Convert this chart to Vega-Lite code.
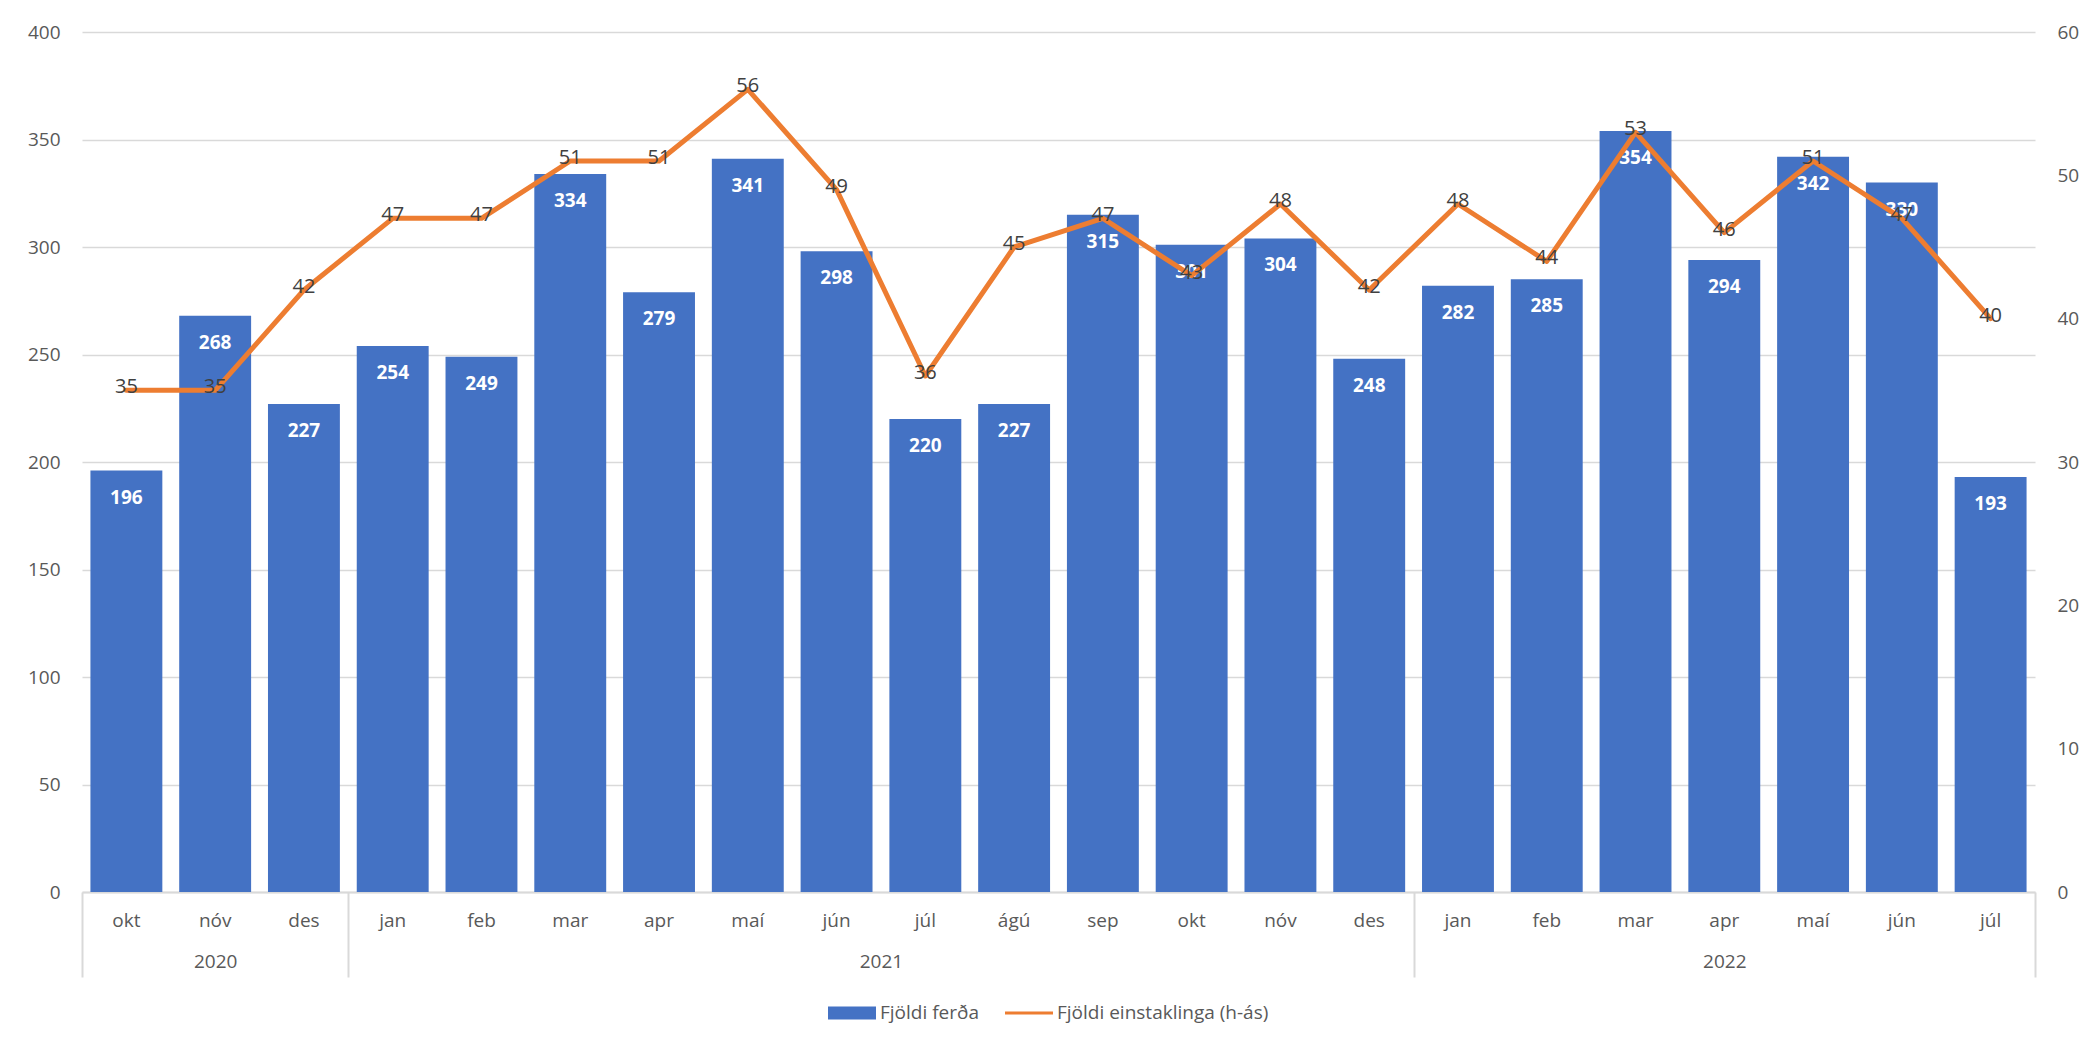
{
  "$schema": "https://vega.github.io/schema/vega-lite/v6.json",
  "width": 1953,
  "height": 860,
  "autosize": {"type": "none"},
  "padding": {"left": 82, "top": 32, "right": 50, "bottom": 152},
  "background": "white",
  "config": {
    "view": {"stroke": null},
    "font": "Open Sans",
    "axis": {"labelFont": "Open Sans", "labelColor": "#595959", "labelFontSize": 19, "title": null}
  },
  "datasets": {
    "months": [
      {"key": "okt 2020", "trips": 196, "people": 35},
      {"key": "nóv 2020", "trips": 268, "people": 35},
      {"key": "des 2020", "trips": 227, "people": 42},
      {"key": "jan 2021", "trips": 254, "people": 47},
      {"key": "feb 2021", "trips": 249, "people": 47},
      {"key": "mar 2021", "trips": 334, "people": 51},
      {"key": "apr 2021", "trips": 279, "people": 51},
      {"key": "maí 2021", "trips": 341, "people": 56},
      {"key": "jún 2021", "trips": 298, "people": 49},
      {"key": "júl 2021", "trips": 220, "people": 36},
      {"key": "ágú 2021", "trips": 227, "people": 45},
      {"key": "sep 2021", "trips": 315, "people": 47},
      {"key": "okt 2021", "trips": 301, "people": 43},
      {"key": "nóv 2021", "trips": 304, "people": 48},
      {"key": "des 2021", "trips": 248, "people": 42},
      {"key": "jan 2022", "trips": 282, "people": 48},
      {"key": "feb 2022", "trips": 285, "people": 44},
      {"key": "mar 2022", "trips": 354, "people": 53},
      {"key": "apr 2022", "trips": 294, "people": 46},
      {"key": "maí 2022", "trips": 342, "people": 51},
      {"key": "jún 2022", "trips": 330, "people": 47},
      {"key": "júl 2022", "trips": 193, "people": 40}
    ],
    "years": [
      {"year": "2020", "mid": 1.5, "start": 0},
      {"year": "2021", "mid": 9, "start": 3},
      {"year": "2022", "mid": 18.5, "start": 15},
      {"year": "", "mid": 22, "start": 22}
    ]
  },
  "layer": [
    {
      "data": {"name": "months"},
      "encoding": {
        "x": {
          "field": "key",
          "type": "ordinal",
          "sort": null,
          "scale": {"paddingInner": 0.19, "paddingOuter": 0.095},
          "axis": {
            "orient": "bottom",
            "labelExpr": "split(datum.value, ' ')[0]",
            "labelAngle": 0,
            "ticks": false,
            "domainColor": "#d9d9d9",
            "domainWidth": 2,
            "labelPadding": 19,
            "grid": false
          }
        }
      },
      "layer": [
        {
          "encoding": {
            "y": {
              "field": "trips",
              "type": "quantitative",
              "scale": {"domain": [0, 400], "nice": false},
              "axis": {
                "orient": "left",
                "values": [0, 50, 100, 150, 200, 250, 300, 350, 400],
                "grid": true,
                "gridColor": "#d9d9d9",
                "gridWidth": 1.5,
                "domain": false,
                "ticks": false,
                "labelPadding": 22
              }
            }
          },
          "layer": [
            {
              "mark": {"type": "bar", "color": "#4472c4"},
              "encoding": {
                "color": {
                  "datum": "Fjöldi ferða",
                  "type": "nominal",
                  "scale": {"domain": ["Fjöldi ferða", "Fjöldi einstaklinga (h-ás)"], "range": ["#4472c4", "#ed7d31"]},
                  "legend": {
                    "orient": "none",
                    "legendX": 746,
                    "legendY": 957,
                    "direction": "horizontal",
                    "title": null,
                    "symbolSize": 2304,
                    "symbolStrokeWidth": 0,
                    "labelFont": "Open Sans",
                    "labelFontSize": 19,
                    "labelColor": "#595959",
                    "labelLimit": 500,
                    "labelOffset": 4,
                    "columnPadding": 26,
                    "encode": {
                      "symbols": {
                        "update": {
                          "shape": {"signal": "datum.value == 'Fjöldi ferða' ? 'M-1,-0.27H1V0.27H-1Z' : 'M-1,-0.06H1V0.06H-1Z'"},
                          "fill": {"signal": "datum.value == 'Fjöldi ferða' ? '#4472c4' : '#ed7d31'"},
                          "strokeWidth": {"value": 0}
                        }
                      }
                    }
                  }
                }
              }
            },
            {
              "mark": {"type": "text", "color": "white", "fontWeight": "bold", "fontSize": 19, "baseline": "middle", "dy": 27, "font": "Open Sans"},
              "encoding": {"text": {"field": "trips", "type": "quantitative"}}
            }
          ]
        },
        {
          "encoding": {
            "y": {
              "field": "people",
              "type": "quantitative",
              "scale": {"domain": [0, 60], "nice": false},
              "axis": {
                "orient": "right",
                "values": [0, 10, 20, 30, 40, 50, 60],
                "grid": false,
                "domain": false,
                "ticks": false,
                "labelPadding": 22
              }
            }
          },
          "layer": [
            {
              "mark": {"type": "line", "strokeWidth": 5, "strokeJoin": "round", "strokeCap": "round"},
              "encoding": {"color": {"datum": "Fjöldi einstaklinga (h-ás)", "type": "nominal"}}
            },
            {
              "mark": {"type": "text", "color": "#404040", "fontSize": 20, "baseline": "middle", "dy": -3, "font": "Open Sans"},
              "encoding": {"text": {"field": "people", "type": "quantitative"}}
            }
          ]
        }
      ],
      "resolve": {"scale": {"y": "independent"}}
    },
    {
      "data": {"name": "years"},
      "mark": {"type": "text", "text": ""},
      "encoding": {
        "x": {
          "field": "mid",
          "type": "quantitative",
          "scale": {"domain": [0, 22], "nice": false, "zero": false},
          "axis": {
            "orient": "bottom",
            "values": [1.5, 9, 18.5],
            "labelExpr": "datum.value < 3 ? '2020' : datum.value < 15 ? '2021' : '2022'",
            "ticks": false,
            "domain": false,
            "grid": false,
            "labelFlush": false,
            "labelOverlap": false,
            "labelPadding": 60
          }
        }
      }
    },
    {
      "data": {"name": "years"},
      "mark": {"type": "text", "text": ""},
      "encoding": {
        "x": {
          "field": "start",
          "type": "quantitative",
          "scale": {"domain": [0, 22], "nice": false, "zero": false},
          "axis": {
            "orient": "bottom",
            "values": [0, 3, 15, 22],
            "labels": false,
            "ticks": true,
            "tickSize": 85,
            "tickColor": "#d9d9d9",
            "tickWidth": 2,
            "domain": false,
            "grid": false
          }
        }
      }
    }
  ],
  "resolve": {"scale": {"x": "independent"}, "axis": {"x": "independent"}}
}
